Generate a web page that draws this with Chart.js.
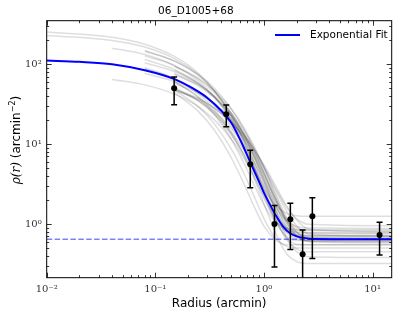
<!DOCTYPE html>
<html>
<head>
<meta charset="utf-8">
<script src="https://cdn.jsdelivr.net/npm/chart.js@4.4.0/dist/chart.umd.min.js"></script>
<style>
  html, body { margin: 0; padding: 0; background: #fff; }
  canvas { display: block; }
</style>
</head>
<body>
<canvas id="profile" width="399" height="319" style="width:399px;height:319px"></canvas>
<script>
// --- data ---
const radius = [0.149, 0.45, 0.748, 1.25, 1.75, 2.27, 2.79, 11.6];
const density = [50, 23.7, 5.6, 1.0, 1.15, 0.42, 1.25, 0.73];
const densityErr = [19, 7.2, 2.75, 0.71, 0.67, 0.42, 0.88, 0.32];

// best fit curve, sampled by eye
const fitRadius = [0.01, 0.02, 0.04, 0.08, 0.15, 0.22, 0.3, 0.4, 0.5, 0.6, 0.75, 0.9, 1.0, 1.15, 1.3, 1.5, 1.75, 2.0, 2.5, 3, 5, 15];
const fitDensity = [111, 107, 100, 84, 65, 50, 38, 26.5, 18.5, 11.6, 5.9, 3.4, 2.45, 1.7, 1.25, 0.93, 0.76, 0.70, 0.66, 0.648, 0.645, 0.645];

const background = 0.645;

// faint grey sample curves (null = curve not drawn there yet)
const sampleGrid = [0.01, 0.04, 0.08, 0.15, 0.25, 0.35, 0.5, 0.65, 0.8, 1.0, 1.25, 1.6, 2.0, 2.6, 15];
const sampleCurves = [
  [252, 217, 178, 125, 76.5, 46.7, 22.4, 10.9, 5.47, 2.41, 1.13, 0.71, 0.62, 0.62, 0.62],
  [229, 198.5, 164, 117.6, 73.7, 46.1, 23.0, 11.7, 6.1, 2.83, 1.40, 0.90, 0.79, 0.78, 0.78],
  [null, 158.5, 132, 96.1, 61.5, 39.3, 20.1, 10.5, 5.55, 2.56, 1.20, 0.68, 0.56, 0.55, 0.55],
  [null, null, 114.7, 85.6, 57.2, 38.0, 20.6, 11.4, 6.4, 3.18, 1.58, 0.90, 0.74, 0.70, 0.70],
  [null, null, 104.2, 80.4, 56.3, 39.2, 22.8, 13.4, 8.06, 4.28, 2.19, 1.19, 0.90, 0.83, 0.82],
  [null, null, 87.1, 65.9, 44.6, 30.1, 16.7, 9.37, 5.35, 2.65, 1.25, 0.65, 0.49, 0.45, 0.45],
  [null, null, 76.6, 60.7, 44.2, 31.8, 19.6, 12.1, 7.6, 4.23, 2.21, 1.14, 0.79, 0.68, 0.66],
  [null, null, null, 57.2, 43.2, 32.1, 20.8, 13.5, 8.9, 5.3, 2.98, 1.65, 1.16, 0.99, 0.95],
  [null, null, null, 48.6, 35.4, 25.5, 15.7, 9.77, 6.16, 3.46, 1.84, 0.98, 0.70, 0.61, 0.60],
  [null, null, null, 47.2, 29.2, 17.9, 8.7, 4.38, 2.33, 1.17, 0.69, 0.53, 0.50, 0.50, 0.50],
  [null, null, 90.4, 65.8, 42.4, 27.2, 14.1, 7.52, 4.14, 2.10, 1.16, 0.81, 0.73, 0.72, 0.72],
  [null, null, 148.3, 109.4, 71.5, 46.5, 24.6, 13.1, 7.15, 3.39, 1.60, 0.88, 0.71, 0.68, 0.68],
  [null, null, null, 64.4, 45.8, 32.3, 19.2, 11.5, 7.07, 3.85, 2.03, 1.12, 0.85, 0.77, 0.76],
  [null, null, null, 84.3, 57.7, 39.4, 22.3, 12.7, 7.3, 3.59, 1.61, 0.70, 0.45, 0.39, 0.38],
  [null, null, null, 48.8, 34.5, 24.2, 14.2, 8.53, 5.27, 2.98, 1.71, 1.11, 0.93, 0.89, 0.88],
  [null, null, null, 74.5, 53.3, 38.0, 22.8, 13.8, 8.5, 4.56, 2.26, 1.08, 0.71, 0.60, 0.58],
  [null, null, 127.1, 96.1, 65.1, 43.9, 24.3, 13.65, 7.79, 3.85, 1.82, 0.94, 0.70, 0.65, 0.65],
  [null, null, null, 48.8, 37.5, 28.3, 18.7, 12.4, 8.33, 5.0, 2.81, 1.48, 0.95, 0.75, 0.70],
  [null, null, null, 50.8, 34.8, 23.4, 13.1, 7.58, 4.64, 2.72, 1.77, 1.37, 1.27, 1.25, 1.25],
  [null, null, null, 75.9, 55.0, 39.5, 24.3, 15.0, 9.33, 5.10, 2.58, 1.24, 0.80, 0.66, 0.64],
  [null, null, 145.2, 109.8, 74.3, 50.1, 27.7, 15.6, 8.88, 4.38, 2.06, 1.05, 0.78, 0.72, 0.72],
  [null, null, null, 59.9, 39.1, 25.4, 13.4, 7.11, 3.86, 1.80, 0.83, 0.43, 0.34, 0.32, 0.32],
  [null, null, null, 93.6, 66.0, 46.4, 27.5, 16.3, 9.78, 5.1, 2.44, 1.13, 0.73, 0.62, 0.60],
  [null, null, null, 46.7, 36.4, 28.0, 18.9, 12.9, 8.85, 5.49, 3.19, 1.72, 1.12, 0.86, 0.80],
  [null, null, null, 44.1, 25.5, 14.9, 6.75, 3.25, 1.73, 0.94, 0.65, 0.55, 0.55, 0.55, 0.55],
  [null, null, null, 61.4, 38.1, 23.5, 11.5, 5.89, 3.23, 1.73, 1.10, 0.89, 0.85, 0.85, 0.85],
  [null, 64.3, 55.1, 42.2, 29.3, 20.1, 11.6, 6.78, 4.08, 2.22, 1.24, 0.78, 0.65, 0.62, 0.62]
];

// ticks
const xMajorTicks = [0.01, 0.1, 1, 10];
const xTickLabels = ['10\u207B\u00B2', '10\u207B\u00B9', '10\u2070', '10\u00B9'];
const yMajorTicks = [1, 10, 100];
const yTickLabels = ['10\u2070', '10\u00B9', '10\u00B2'];

const X_MIN = 0.01, X_MAX = 15;
const Y_MIN = 0.213, Y_MAX = 350;

// major + minor tick positions (1..9 x each decade) within limits
function logTicks(min, max) {
  const out = [];
  for (let e = Math.floor(Math.log10(min)); e <= Math.ceil(Math.log10(max)); e++) {
    for (let m = 1; m <= 9; m++) {
      const v = +(m * Math.pow(10, e)).toPrecision(6);
      if (v >= min * 0.999 && v <= max * 1.001) out.push(v);
    }
  }
  return out;
}
const isMajor = (v, majors) => majors.some(m => Math.abs(v / m - 1) < 1e-6);

const tickFont = { family: 'DejaVu Serif', size: 10 };

// --- plugins ---
const errorBars = {
  id: 'errorBars',
  beforeDatasetDraw(chart, args) {
    if (args.index !== 0) return;
    const { ctx, chartArea: a, scales: { x, y } } = chart;
    ctx.save();
    ctx.beginPath();
    ctx.rect(a.left, a.top, a.right - a.left, a.bottom - a.top);
    ctx.clip();
    ctx.strokeStyle = '#000';
    ctx.lineWidth = 1.5;
    radius.forEach((r, i) => {
      const px = x.getPixelForValue(r);
      const hi = density[i] + densityErr[i];
      const lo = density[i] - densityErr[i];
      const pHi = y.getPixelForValue(hi);
      const pLo = lo > 0 ? y.getPixelForValue(lo) : a.bottom + 10;
      ctx.beginPath();
      ctx.moveTo(px, pHi); ctx.lineTo(px, pLo);
      ctx.moveTo(px - 3, pHi); ctx.lineTo(px + 3, pHi);
      if (lo > 0) { ctx.moveTo(px - 3, pLo); ctx.lineTo(px + 3, pLo); }
      ctx.stroke();
    });
    ctx.restore();
  }
};

const frameAndTicks = {
  id: 'frameAndTicks',
  afterDraw(chart) {
    const { ctx, chartArea: a, scales: { x, y } } = chart;
    ctx.save();
    ctx.strokeStyle = '#000';
    ctx.lineWidth = 0.8;
    ctx.beginPath();
    logTicks(X_MIN, X_MAX).forEach(v => {
      const px = Math.round(x.getPixelForValue(v)) + 0.5;
      const len = isMajor(v, xMajorTicks) ? 5 : 2.5;
      ctx.moveTo(px, a.bottom); ctx.lineTo(px, a.bottom - len);
      ctx.moveTo(px, a.top); ctx.lineTo(px, a.top + len);
    });
    logTicks(Y_MIN, Y_MAX).forEach(v => {
      const py = Math.round(y.getPixelForValue(v)) + 0.5;
      const len = isMajor(v, yMajorTicks) ? 5 : 2.5;
      ctx.moveTo(a.left, py); ctx.lineTo(a.left + len, py);
      ctx.moveTo(a.right, py); ctx.lineTo(a.right - len, py);
    });
    ctx.stroke();
    ctx.lineWidth = 1;
    ctx.strokeRect(a.left, a.top, a.right - a.left, a.bottom - a.top);

    // legend
    ctx.strokeStyle = '#0000ff';
    ctx.lineWidth = 2;
    ctx.beginPath();
    ctx.moveTo(275, 35); ctx.lineTo(300, 35);
    ctx.stroke();
    ctx.fillStyle = '#000';
    ctx.font = '10.5px "DejaVu Sans"';
    ctx.textBaseline = 'middle';
    ctx.textAlign = 'left';
    ctx.fillText('Exponential Fit', 310, 35.5);

    // y axis label: rho(r) (arcmin^-2)
    ctx.translate(15, 140);
    ctx.rotate(-Math.PI / 2);
    const f1 = 'italic 12px "DejaVu Serif"', f2 = '12px "DejaVu Sans"', f3 = '8px "DejaVu Sans"';
    const parts = [['\u03C1(r)', f1, 0], [' (arcmin', f2, 0], ['\u22122', f3, -5], [')', f2, 0]];
    let w = 0;
    parts.forEach(p => { ctx.font = p[1]; w += ctx.measureText(p[0]).width; });
    let cx = -w / 2;
    ctx.textBaseline = 'alphabetic';
    parts.forEach(p => {
      ctx.font = p[1];
      ctx.fillText(p[0], cx, 4.5 + p[2]);
      cx += ctx.measureText(p[0]).width;
    });
    ctx.restore();
  }
};

// --- datasets ---
const pointSet = {
  label: 'data',
  data: radius.map((r, i) => ({ x: r, y: density[i] })),
  showLine: false,
  pointRadius: 3,
  pointBackgroundColor: '#000',
  pointBorderColor: '#000',
  pointBorderWidth: 0
};

const fitSet = {
  label: 'Exponential Fit',
  data: fitRadius.map((r, i) => ({ x: r, y: fitDensity[i] })),
  borderColor: '#0000ff',
  borderWidth: 2,
  pointRadius: 0,
  cubicInterpolationMode: 'monotone'
};

const bgSet = {
  label: 'background',
  data: [{ x: X_MIN, y: background }, { x: X_MAX, y: background }],
  borderColor: 'rgba(0, 0, 255, 0.5)',
  borderWidth: 1.5,
  borderDash: [5.5, 2.4],
  pointRadius: 0
};

const greySets = sampleCurves.map(curve => ({
  label: 'sample',
  data: sampleGrid.map((r, i) => ({ x: r, y: curve[i] })),
  borderColor: 'rgba(0, 0, 0, 0.13)',
  borderWidth: 1.5,
  pointRadius: 0,
  cubicInterpolationMode: 'monotone'
}));

new Chart(document.getElementById('profile'), {
  type: 'line',
  data: { datasets: [pointSet, fitSet, bgSet, ...greySets] },
  options: {
    responsive: false,
    animation: false,
    events: [],
    layout: { padding: { left: 0, right: 7.3, top: 0, bottom: 0 } },
    scales: {
      x: {
        type: 'logarithmic',
        min: X_MIN,
        max: X_MAX,
        afterBuildTicks: axis => { axis.ticks = logTicks(X_MIN, X_MAX).map(v => ({ value: v })); },
        afterFit: axis => { axis.height = 41.3; },
        grid: { display: false, drawTicks: false },
        border: { display: false },
        ticks: {
          autoSkip: false,
          maxRotation: 0,
          padding: 6,
          color: '#333',
          font: tickFont,
          callback: v => {
            const i = xMajorTicks.findIndex(m => Math.abs(v / m - 1) < 1e-6);
            return i >= 0 ? xTickLabels[i] : '';
          }
        },
        title: {
          display: true,
          text: 'Radius (arcmin)',
          color: '#000',
          font: { family: 'DejaVu Sans', size: 12 },
          padding: { top: 0, bottom: 8.3 }
        }
      },
      y: {
        type: 'logarithmic',
        min: Y_MIN,
        max: Y_MAX,
        afterBuildTicks: axis => { axis.ticks = logTicks(Y_MIN, Y_MAX).map(v => ({ value: v })); },
        afterFit: axis => { axis.width = 46.7; },
        grid: { display: false, drawTicks: false },
        border: { display: false },
        ticks: {
          autoSkip: false,
          padding: 5,
          color: '#333',
          font: tickFont,
          callback: v => {
            const i = yMajorTicks.findIndex(m => Math.abs(v / m - 1) < 1e-6);
            return i >= 0 ? yTickLabels[i] : '';
          }
        }
      }
    },
    plugins: {
      legend: { display: false },
      tooltip: { enabled: false },
      title: {
        display: true,
        text: '06_D1005+68',
        color: '#000',
        font: { family: 'DejaVu Sans', size: 10.5, weight: 'normal' },
        padding: { top: 5, bottom: 3.1 }
      }
    }
  },
  plugins: [errorBars, frameAndTicks]
});
</script>
</body>
</html>
